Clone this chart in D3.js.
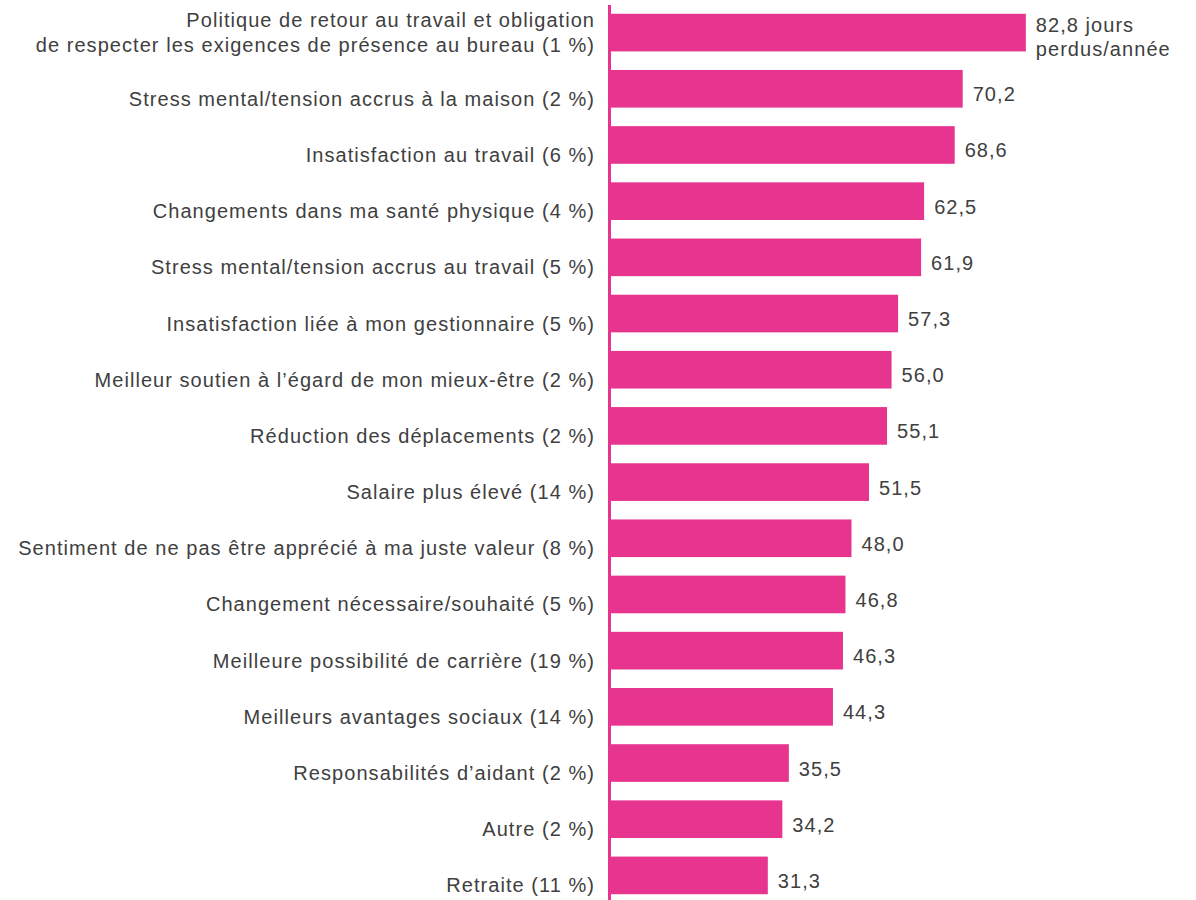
<!DOCTYPE html>
<html><head><meta charset="utf-8">
<script src="https://cdn.jsdelivr.net/npm/d3@7"></script>
<style>body{margin:0;background:#fff;} svg{display:block;}</style>
</head><body>
<svg id="c" width="1196" height="900"></svg>
<script>
const categories = [
  ["Politique de retour au travail et obligation", "de respecter les exigences de présence au bureau (1 %)"],
  ["Stress mental/tension accrus à la maison (2 %)"],
  ["Insatisfaction au travail (6 %)"],
  ["Changements dans ma santé physique (4 %)"],
  ["Stress mental/tension accrus au travail (5 %)"],
  ["Insatisfaction liée à mon gestionnaire (5 %)"],
  ["Meilleur soutien à l’égard de mon mieux-être (2 %)"],
  ["Réduction des déplacements (2 %)"],
  ["Salaire plus élevé (14 %)"],
  ["Sentiment de ne pas être apprécié à ma juste valeur (8 %)"],
  ["Changement nécessaire/souhaité (5 %)"],
  ["Meilleure possibilité de carrière (19 %)"],
  ["Meilleurs avantages sociaux (14 %)"],
  ["Responsabilités d’aidant (2 %)"],
  ["Autre (2 %)"],
  ["Retraite (11 %)"]
];
const values = [82.8, 70.2, 68.6, 62.5, 61.9, 57.3, 56.0, 55.1, 51.5, 48.0, 46.8, 46.3, 44.3, 35.5, 34.2, 31.3];
const valueLabels = [["82,8 jours", "perdus/année"], ["70,2"], ["68,6"], ["62,5"], ["61,9"], ["57,3"], ["56,0"], ["55,1"], ["51,5"], ["48,0"], ["46,8"], ["46,3"], ["44,3"], ["35,5"], ["34,2"], ["31,3"]];

const barColor = "#E6348F";
const textColor = "#404040";
const fontFamily = "'Liberation Sans', Arial, Helvetica, sans-serif";
const fontSize = 20;
const letterSpacing = 1.05;

const svg = d3.select("#c");
const x0 = 611;
const x = d3.scaleLinear().domain([0, 100]).range([x0, x0 + 501]);
const idx = d3.range(values.length);
const y = d3.scaleBand().domain(idx).range([4.5, 903.5]).paddingInner(0.33).paddingOuter(0.165);

svg.append("g").selectAll("rect").data(idx).join("rect")
  .attr("x", x(0))
  .attr("y", i => y(i))
  .attr("width", i => x(values[i]) - x(0))
  .attr("height", y.bandwidth())
  .attr("fill", barColor);

// axis line
svg.append("line")
  .attr("x1", x0 - 1.5).attr("x2", x0 - 1.5)
  .attr("y1", 5).attr("y2", 900)
  .attr("stroke", barColor).attr("stroke-width", 3);

const lineH = 24.7;
// category labels
const cat = svg.append("g").attr("font-family", fontFamily).attr("font-size", fontSize)
  .attr("letter-spacing", letterSpacing).attr("fill", textColor).attr("text-anchor", "end");
idx.forEach(i => {
  const lines = categories[i];
  const cy = y(i) + y.bandwidth() / 2 + (lines.length === 1 ? 10 : 0);
  const t = cat.append("text");
  lines.forEach((l, k) => {
    t.append("tspan").attr("x", x0 - 16)
      .attr("y", cy + (k - (lines.length - 1) / 2) * lineH)
      .attr("dy", "0.35em").text(l);
  });
});

// value labels
const vl = svg.append("g").attr("font-family", fontFamily).attr("font-size", fontSize)
  .attr("letter-spacing", letterSpacing).attr("fill", textColor);
idx.forEach(i => {
  const lines = valueLabels[i];
  const cy = y(i) + y.bandwidth() / 2 + (lines.length === 1 ? 5.5 : 4);
  const t = vl.append("text");
  lines.forEach((l, k) => {
    t.append("tspan").attr("x", x(values[i]) + 10)
      .attr("y", cy + (k - (lines.length - 1) / 2) * 24)
      .attr("dy", "0.35em").text(l);
  });
});
</script>
</body></html>
